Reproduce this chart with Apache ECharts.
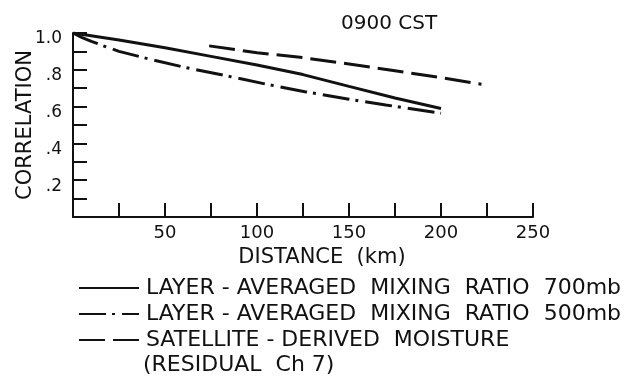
<!DOCTYPE html>
<html>
<head>
<meta charset="utf-8">
<script src="https://cdn.jsdelivr.net/npm/echarts@6/dist/echarts.min.js"></script>
<style>
html,body{margin:0;padding:0;background:#fff;}
#chart{width:634px;height:376px;}
</style>
</head>
<body>
<div id="chart"></div>
<script>
// ---- data ----
var titleText = '0900 CST';
var xAxisName = 'DISTANCE  (km)';
var yAxisName = 'CORRELATION';

var mix700Dist = [0, 25, 50, 75, 100, 125, 150, 175, 200];
var mix700Corr = [1.0, 0.962, 0.92, 0.873, 0.826, 0.774, 0.71, 0.647, 0.59];

var mix500Dist = [0, 5, 10, 16, 25, 42, 60, 84, 105, 126, 150, 170, 200];
var mix500Corr = [1.0, 0.975, 0.955, 0.932, 0.9, 0.857, 0.815, 0.766, 0.722, 0.681, 0.64, 0.609, 0.564];

var satDist = [74, 100, 125, 150, 175, 200, 222];
var satCorr = [0.93, 0.893, 0.866, 0.832, 0.795, 0.757, 0.721];

var seriesNames = [
  'LAYER - AVERAGED  MIXING  RATIO  700mb',
  'LAYER - AVERAGED  MIXING  RATIO  500mb',
  'SATELLITE - DERIVED  MOISTURE'
];
var legendContinuation = '(RESIDUAL  Ch 7)';

var xTickLabels = {0: '', 50: '50', 100: '100', 150: '150', 200: '200', 250: '250'};
var yTickLabels = {0: '', 2: '.2', 4: '.4', 6: '.6', 8: '.8', 10: '1.0'};

function pairs(xs, ys) { return xs.map(function (x, i) { return [x, ys[i]]; }); }

var FONT = 'DejaVu Sans';
var INK = '#111';

var chart = echarts.init(document.getElementById('chart'), null, {renderer: 'canvas'});
chart.setOption({
  animation: false,
  backgroundColor: '#fff',
  title: {
    text: titleText, left: 336, top: 9,
    textStyle: {fontFamily: FONT, fontSize: 20, fontWeight: 'normal', color: INK}
  },
  grid: {left: 73, right: 101, top: 33, bottom: 159, containLabel: false, outerBoundsMode: 'none'},
  xAxis: {
    type: 'value', min: 0, max: 250, interval: 50,
    name: xAxisName, nameLocation: 'middle', nameGap: 30, nameMoveOverlap: false,
    nameTextStyle: {fontFamily: FONT, fontSize: 21, color: INK, padding: [0, 0, 0, 38]},
    axisLine: {show: true, lineStyle: {color: INK, width: 2}},
    axisTick: {show: true, inside: true, length: 14, lineStyle: {color: INK, width: 2}},
    minorTick: {show: true, splitNumber: 2, length: 14, lineStyle: {color: INK, width: 2}},
    splitLine: {show: false},
    axisLabel: {
      margin: 7, fontFamily: FONT, fontSize: 18, color: INK,
      formatter: function (v) { return xTickLabels[Math.round(v)] || ''; }
    }
  },
  yAxis: {
    type: 'value', min: 0, max: 1, interval: 0.2,
    name: yAxisName, nameLocation: 'middle', nameGap: 37, nameRotate: 90, nameMoveOverlap: false,
    nameTextStyle: {fontFamily: FONT, fontSize: 21, color: INK},
    axisLine: {show: true, lineStyle: {color: INK, width: 2}},
    axisTick: {show: true, inside: true, length: 14, lineStyle: {color: INK, width: 2}},
    minorTick: {show: true, splitNumber: 2, length: 14, lineStyle: {color: INK, width: 2}},
    splitLine: {show: false},
    axisLabel: {
      margin: 11, fontFamily: FONT, fontSize: 17, color: INK,
      verticalAlign: 'top', lineHeight: 12,
      formatter: function (v) { return yTickLabels[Math.round(v * 10)] || ''; }
    }
  },
  legend: {
    orient: 'vertical', left: 73, top: 272,
    itemWidth: 60, itemHeight: 14, itemGap: 4,
    data: seriesNames,
    itemStyle: {color: 'rgba(0,0,0,0)', borderWidth: 0, opacity: 0},
    textStyle: {fontFamily: FONT, fontSize: 22, color: INK, lineHeight: 21, padding: [0, 0, 0, 2]}
  },
  graphic: [{
    type: 'text', left: 143, top: 354,
    style: {text: legendContinuation, fontFamily: FONT, fontSize: 22, fill: INK}
  }],
  series: [
    {
      name: seriesNames[0], type: 'line', symbol: 'none',
      data: pairs(mix700Dist, mix700Corr),
      lineStyle: {color: INK, width: 3, type: 'solid'},
      itemStyle: {color: INK}
    },
    {
      name: seriesNames[1], type: 'line', symbol: 'none',
      data: pairs(mix500Dist, mix500Corr),
      lineStyle: {color: INK, width: 3, type: [27, 6, 3, 7]},
      itemStyle: {color: INK}
    },
    {
      name: seriesNames[2], type: 'line', symbol: 'none',
      data: pairs(satDist, satCorr),
      lineStyle: {color: INK, width: 3, type: [26, 8]},
      itemStyle: {color: INK}
    }
  ]
});
</script>
</body>
</html>
